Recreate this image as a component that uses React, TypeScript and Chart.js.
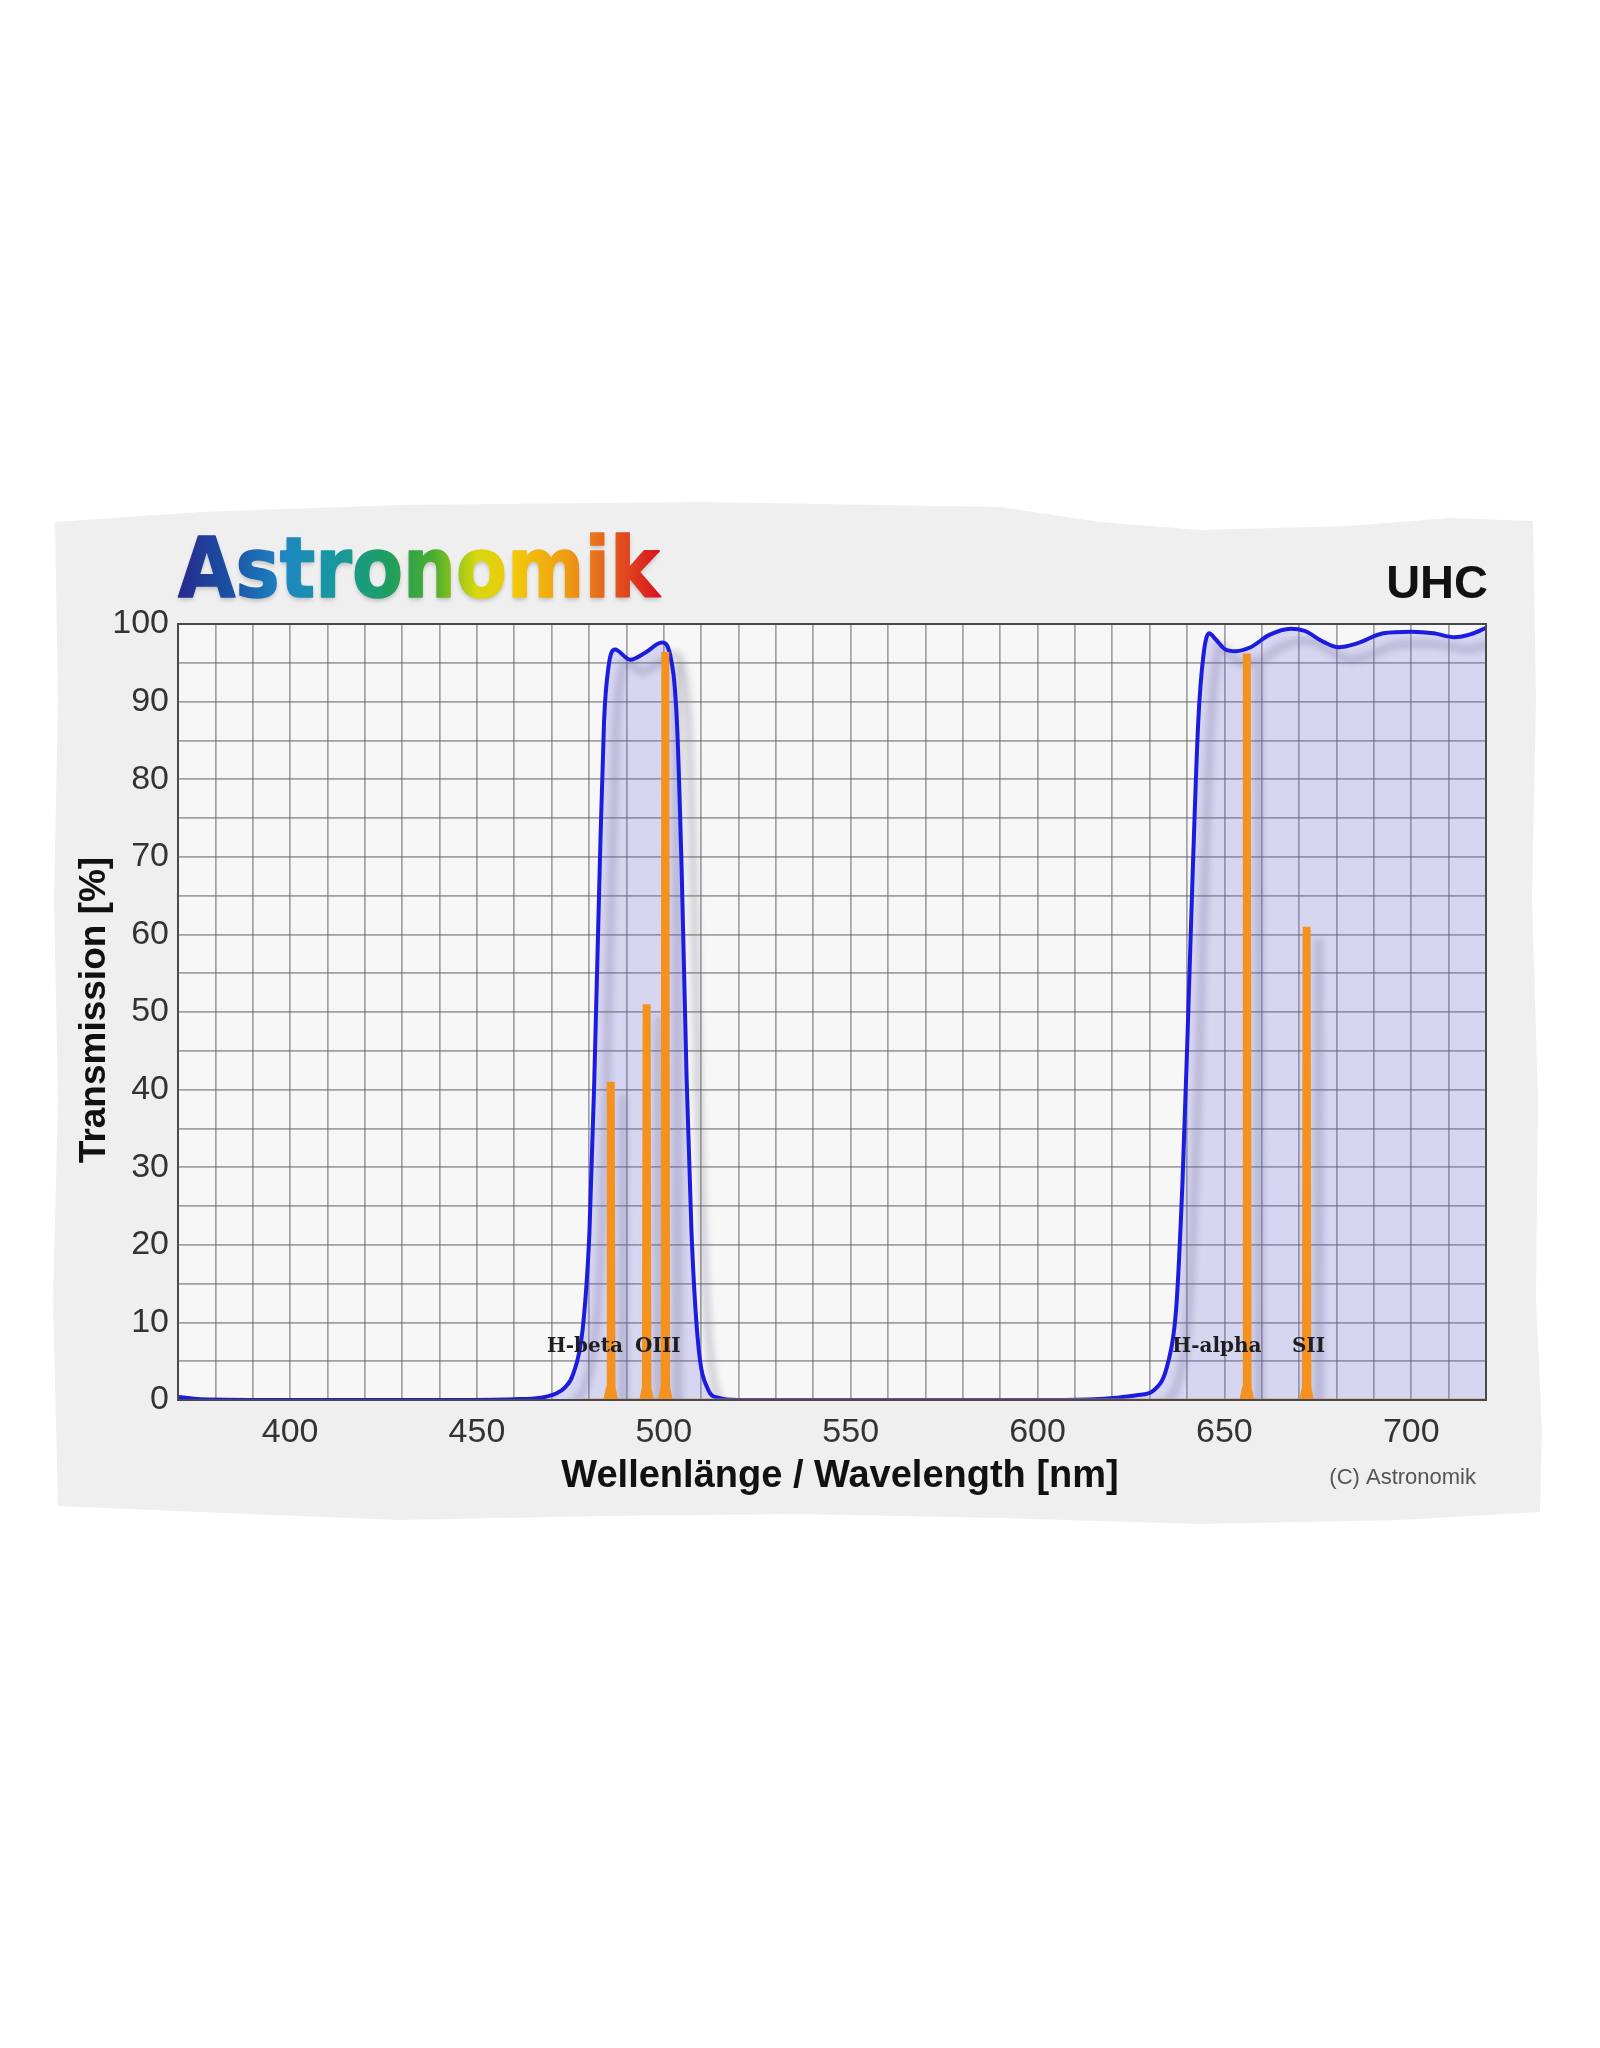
import React, { useEffect, useRef } from "react";
import { Chart, registerables } from "chart.js";

Chart.register(...registerables);

// ---------------- data ----------------
const filterNm = [370, 376, 400, 440, 460, 467, 471, 473.5, 475.7, 478.3, 480.1, 481.4, 482.8, 484.0, 485.2, 486.9, 491, 495, 499.5, 501.7, 503.5, 504.8, 506.1, 507.4, 509.2, 511.9, 514.5, 520, 560, 600, 615, 621, 626.5, 631.2, 634.8, 637.1, 638.8, 640.2, 641.5, 643.0, 644.4, 645.9, 647.7, 650, 653, 657, 662, 667.8, 671.5, 676.5, 680.5, 685.5, 692.5, 700, 706, 711.5, 716, 720];
const filterT = [0.4, 0.1, 0, 0, 0.1, 0.3, 0.8, 1.6, 3.3, 9.2, 21.7, 41.4, 67.7, 87.4, 94.5, 96.7, 95.4, 96.3, 97.6, 96.0, 87.4, 67.7, 41.4, 21.7, 7.2, 1.3, 0.3, 0, 0, 0, 0.1, 0.3, 0.6, 1.3, 4.6, 11.8, 28.3, 48, 67.7, 87.4, 96, 98.8, 98.0, 96.8, 96.5, 97.0, 98.6, 99.4, 99.1, 97.7, 97.0, 97.5, 98.8, 99.0, 98.8, 98.3, 98.7, 99.5];

const emissionNm = [485.8, 495.4, 500.4, 656.0, 672.0];
const emissionPeak = [41, 51, 96.4, 96.2, 61];
const emissionStart = 478;
const emissionEnd = 720;

const labelTexts = ["H-beta", "OIII", "H-alpha", "SII"];
const labelNm = [478.9, 498.4, 648.0, 672.5];
const labelT = [6.9, 6.9, 6.9, 6.9];

const xTickLabels = [400, 450, 500, 550, 600, 650, 700];
const yTickLabels = [0, 10, 20, 30, 40, 50, 60, 70, 80, 90, 100];

const titleText = "UHC";
const brandText = "Astronomik";
const xTitle = "Wellenlänge / Wavelength [nm]";
const yTitle = "Transmission [%]";
const copyright = "(C) Astronomik";

// ---------------- helpers ----------------
const OFF = 8; // body margin
const filterPoints = filterNm.map((x, i) => ({ x, y: filterT[i] }));

function spikePoints() {
  const pts: any[] = [];
  emissionNm.forEach((c, i) => {
    pts.push({ x: c - 0.9, y: 0 });
    pts.push({ x: c - 0.2, y: 1.6 });
    pts.push({ x: c, y: emissionPeak[i] });
    pts.push({ x: c + 0.2, y: 1.6 });
    pts.push({ x: c + 0.9, y: 0 });
    pts.push({ x: c + 1.2, y: null });
  });
  return pts;
}
const baselinePoints = [
  { x: emissionStart, y: 0 },
  { x: emissionEnd, y: 0 },
];

const SANS = '"Liberation Sans", Arial, sans-serif';

const panelPts: [number, number][] = [
  [55, 522], [200, 512], [400, 505], [700, 502], [1000, 507], [1100, 522], [1200, 530], [1350, 526], [1450, 518], [1533, 521],
  [1536, 700], [1532, 900], [1538, 1100], [1536, 1300], [1542, 1430], [1540, 1512],
  [1400, 1520], [1200, 1524], [1000, 1518], [800, 1514], [600, 1516], [400, 1520], [200, 1512], [58, 1506],
  [53, 1300], [58, 1100], [54, 900], [58, 700],
];

const decorPlugin = {
  id: "decor",
  beforeDraw(chart: any) {
    const ctx = chart.ctx as CanvasRenderingContext2D;
    const a = chart.chartArea;
    ctx.save();
    ctx.fillStyle = "#ffffff";
    ctx.fillRect(0, 0, chart.width, chart.height);
    ctx.translate(-OFF, -OFF);
    ctx.beginPath();
    panelPts.forEach(([x, y], i) => (i ? ctx.lineTo(x, y) : ctx.moveTo(x, y)));
    ctx.closePath();
    ctx.fillStyle = "#efefef";
    ctx.fill();
    ctx.restore();

    ctx.save();
    ctx.fillStyle = "#f7f7f7";
    ctx.fillRect(a.left, a.top, a.right - a.left, a.bottom - a.top);
    ctx.restore();

    // brand logo
    ctx.save();
    ctx.font = 'bold 84px "DejaVu Sans", sans-serif';
    ctx.textBaseline = "alphabetic";
    ctx.textAlign = "left";
    const x0 = a.left;
    const sx = 0.885;
    const w = ctx.measureText(brandText).width;
    ctx.translate(x0, 597 - OFF);
    ctx.scale(sx, 1);
    const g = ctx.createLinearGradient(0, 0, w, 0);
    g.addColorStop(0.0, "#28288f");
    g.addColorStop(0.1, "#1a4fa3");
    g.addColorStop(0.22, "#1e86c2");
    g.addColorStop(0.33, "#17999e");
    g.addColorStop(0.44, "#1f9e5e");
    g.addColorStop(0.53, "#4aad2e");
    g.addColorStop(0.62, "#d6d80e");
    g.addColorStop(0.7, "#f2c80a");
    g.addColorStop(0.8, "#efa012");
    g.addColorStop(0.88, "#e66a1e");
    g.addColorStop(1.0, "#d8141e");
    ctx.shadowColor = "rgba(0,0,0,0.2)";
    ctx.shadowOffsetY = 3;
    ctx.shadowBlur = 4;
    ctx.fillStyle = g;
    ctx.fillText(brandText, 0, 0);
    ctx.shadowColor = "transparent";
    ctx.strokeStyle = g;
    ctx.lineWidth = 1.5;
    ctx.lineJoin = "round";
    ctx.strokeText(brandText, 0, 0);
    ctx.restore();
  },
};

const shadowPlugin = {
  id: "dsShadow",
  beforeDatasetDraw(chart: any, args: any) {
    const ds = chart.data.datasets[args.index] as any;
    if (!ds.isShadow) return;
    const ctx = chart.ctx as CanvasRenderingContext2D;
    const a = chart.chartArea;
    ctx.save();
    ctx.beginPath();
    ctx.rect(a.left, a.top, a.right - a.left, a.bottom - a.top);
    ctx.clip();
    ctx.translate(12, 12);
    (ctx as any).filter = "blur(3.5px)";
  },
  afterDatasetDraw(chart: any, args: any) {
    const ds = chart.data.datasets[args.index] as any;
    if (!ds.isShadow) return;
    chart.ctx.restore();
  },
};

const overlayPlugin = {
  id: "overlay",
  afterDatasetsDraw(chart: any) {
    const ctx = chart.ctx as CanvasRenderingContext2D;
    const a = chart.chartArea;
    const xs = chart.scales.x;
    const ys = chart.scales.y;
    ctx.save();
    ctx.strokeStyle = "#4a4a4a";
    ctx.lineWidth = 2;
    ctx.strokeRect(a.left, a.top, a.right - a.left, a.bottom - a.top);
    ctx.font = 'bold 20px "DejaVu Serif", serif';
    ctx.fillStyle = "#1e1e1e";
    ctx.textAlign = "center";
    ctx.textBaseline = "middle";
    labelTexts.forEach((t, i) => {
      ctx.fillText(t, xs.getPixelForValue(labelNm[i]), ys.getPixelForValue(labelT[i]));
    });
    ctx.restore();
  },
  afterDraw(chart: any) {
    const ctx = chart.ctx as CanvasRenderingContext2D;
    const a = chart.chartArea;
    ctx.save();
    // UHC
    ctx.font = `bold 47px ${SANS}`;
    ctx.fillStyle = "#111";
    ctx.textAlign = "right";
    ctx.textBaseline = "alphabetic";
    ctx.fillText(titleText, a.right + 2, 598 - OFF);
    // x title
    ctx.font = `bold 38px ${SANS}`;
    ctx.fillStyle = "#111";
    ctx.textAlign = "center";
    ctx.fillText(xTitle, 840 - OFF, 1487 - OFF);
    // y title
    ctx.save();
    ctx.translate(105 - OFF, (a.top + a.bottom) / 2 - 2);
    ctx.rotate(-Math.PI / 2);
    ctx.font = `bold 37px ${SANS}`;
    ctx.textAlign = "center";
    ctx.fillText(yTitle, 0, 0);
    ctx.restore();
    // copyright
    ctx.font = `22px ${SANS}`;
    ctx.fillStyle = "#555";
    ctx.textAlign = "right";
    ctx.fillText(copyright, 1476 - OFF, 1484 - OFF);
    ctx.restore();
  },
};

const gridColor = "rgba(100,100,100,0.58)";
const tickFont = { family: SANS, size: 34 };

export default function App() {
  const ref = useRef<HTMLCanvasElement>(null);
  useEffect(() => {
    const canvas = ref.current!;
    const chart = new Chart(canvas, {
      type: "line",
      data: {
        datasets: [
          {
            label: "emission",
            data: spikePoints(),
            borderColor: "#f5921f",
            borderWidth: 8,
            tension: 0,
            spanGaps: false,
            fill: false,
            pointRadius: 0,
            borderJoinStyle: "bevel",
            order: 1,
          } as any,
          {
            label: "emission base",
            data: baselinePoints,
            borderColor: "rgba(220,140,70,0.85)",
            borderWidth: 3,
            fill: false,
            pointRadius: 0,
            order: 2,
          } as any,
          {
            label: "UHC",
            data: filterPoints,
            borderColor: "#1c1ce0",
            borderWidth: 4,
            backgroundColor: "rgba(95,95,215,0.21)",
            fill: "origin",
            cubicInterpolationMode: "monotone",
            pointRadius: 0,
            order: 5,
          } as any,
          {
            label: "emission shadow",
            data: spikePoints(),
            borderColor: "rgba(110,110,135,0.32)",
            borderWidth: 8,
            tension: 0,
            spanGaps: false,
            fill: false,
            pointRadius: 0,
            isShadow: true,
            order: 9,
          } as any,
          {
            label: "UHC shadow",
            data: filterPoints,
            borderColor: "rgba(110,110,135,0.32)",
            borderWidth: 7,
            fill: false,
            cubicInterpolationMode: "monotone",
            pointRadius: 0,
            isShadow: true,
            order: 10,
          } as any,
        ],
      },
      options: {
        responsive: false,
        animation: false,
        devicePixelRatio: 1,
        parsing: false as any,
        normalized: true,
        layout: { padding: { top: 616, left: 0, right: 106, bottom: 540 } },
        plugins: {
          legend: { display: false },
          tooltip: { enabled: false },
          title: { display: false },
        },
        scales: {
          x: {
            type: "linear",
            min: 370,
            max: 720,
            afterFit: (s: any) => {
              s.height = 100;
            },
            ticks: {
              stepSize: 10,
              autoSkip: false,
              maxRotation: 0,
              padding: 12,
              color: "#333",
              font: tickFont,
              callback: (v: any) => (xTickLabels.includes(Number(v)) ? String(v) : ""),
            },
            grid: { color: gridColor, lineWidth: 1.7, drawTicks: false },
            border: { display: true, color: "#4a4a4a", width: 2 },
          },
          y: {
            type: "linear",
            min: 0,
            max: 100,
            afterFit: (s: any) => {
              s.width = 170;
            },
            ticks: {
              stepSize: 5,
              autoSkip: false,
              padding: 9,
              color: "#333",
              font: tickFont,
              callback: (v: any) => (yTickLabels.includes(Number(v)) ? String(v) : ""),
            },
            grid: { color: gridColor, lineWidth: 1.7, drawTicks: false },
            border: { display: true, color: "#4a4a4a", width: 2 },
          },
        },
        elements: { point: { radius: 0 } },
      } as any,
      plugins: [decorPlugin, shadowPlugin, overlayPlugin],
    });
    return () => chart.destroy();
  }, []);
  return (
    <div style={{ width: 1584, height: 2032 }}>
      <canvas ref={ref} width={1584} height={2032} style={{ display: "block", width: 1584, height: 2032 }} />
    </div>
  );
}
